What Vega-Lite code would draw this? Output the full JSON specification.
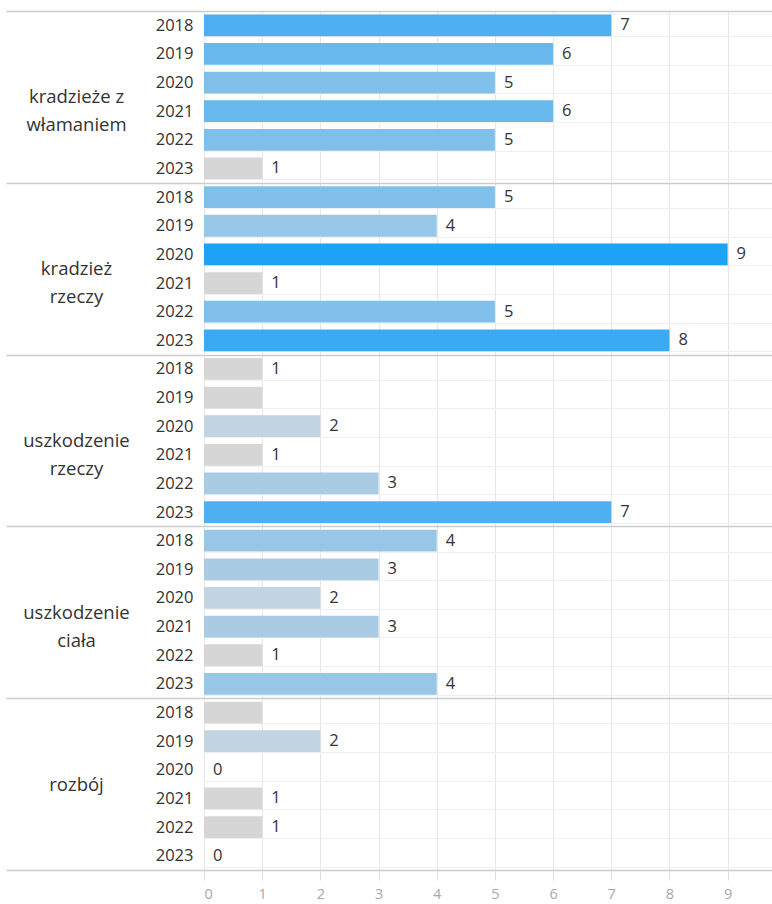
{
  "$schema": "https://vega.github.io/schema/vega-lite/v6.json",
  "width": 569,
  "height": 859,
  "padding": {"left": 5, "top": 2, "right": 0, "bottom": 0},
  "config": {
    "view": {"stroke": null},
    "font": "Open Sans"
  },
  "data": {
    "values": [
      {"key": "kradzieże z włamaniem|2018", "category": "kradzieże z włamaniem", "year": "2018", "value": 7, "label": "7"},
      {"key": "kradzieże z włamaniem|2019", "category": "kradzieże z włamaniem", "year": "2019", "value": 6, "label": "6"},
      {"key": "kradzieże z włamaniem|2020", "category": "kradzieże z włamaniem", "year": "2020", "value": 5, "label": "5"},
      {"key": "kradzieże z włamaniem|2021", "category": "kradzieże z włamaniem", "year": "2021", "value": 6, "label": "6"},
      {"key": "kradzieże z włamaniem|2022", "category": "kradzieże z włamaniem", "year": "2022", "value": 5, "label": "5"},
      {"key": "kradzieże z włamaniem|2023", "category": "kradzieże z włamaniem", "year": "2023", "value": 1, "label": "1"},
      {"key": "kradzież rzeczy|2018", "category": "kradzież rzeczy", "year": "2018", "value": 5, "label": "5"},
      {"key": "kradzież rzeczy|2019", "category": "kradzież rzeczy", "year": "2019", "value": 4, "label": "4"},
      {"key": "kradzież rzeczy|2020", "category": "kradzież rzeczy", "year": "2020", "value": 9, "label": "9"},
      {"key": "kradzież rzeczy|2021", "category": "kradzież rzeczy", "year": "2021", "value": 1, "label": "1"},
      {"key": "kradzież rzeczy|2022", "category": "kradzież rzeczy", "year": "2022", "value": 5, "label": "5"},
      {"key": "kradzież rzeczy|2023", "category": "kradzież rzeczy", "year": "2023", "value": 8, "label": "8"},
      {"key": "uszkodzenie rzeczy|2018", "category": "uszkodzenie rzeczy", "year": "2018", "value": 1, "label": "1"},
      {"key": "uszkodzenie rzeczy|2019", "category": "uszkodzenie rzeczy", "year": "2019", "value": 1, "label": ""},
      {"key": "uszkodzenie rzeczy|2020", "category": "uszkodzenie rzeczy", "year": "2020", "value": 2, "label": "2"},
      {"key": "uszkodzenie rzeczy|2021", "category": "uszkodzenie rzeczy", "year": "2021", "value": 1, "label": "1"},
      {"key": "uszkodzenie rzeczy|2022", "category": "uszkodzenie rzeczy", "year": "2022", "value": 3, "label": "3"},
      {"key": "uszkodzenie rzeczy|2023", "category": "uszkodzenie rzeczy", "year": "2023", "value": 7, "label": "7"},
      {"key": "uszkodzenie ciała|2018", "category": "uszkodzenie ciała", "year": "2018", "value": 4, "label": "4"},
      {"key": "uszkodzenie ciała|2019", "category": "uszkodzenie ciała", "year": "2019", "value": 3, "label": "3"},
      {"key": "uszkodzenie ciała|2020", "category": "uszkodzenie ciała", "year": "2020", "value": 2, "label": "2"},
      {"key": "uszkodzenie ciała|2021", "category": "uszkodzenie ciała", "year": "2021", "value": 3, "label": "3"},
      {"key": "uszkodzenie ciała|2022", "category": "uszkodzenie ciała", "year": "2022", "value": 1, "label": "1"},
      {"key": "uszkodzenie ciała|2023", "category": "uszkodzenie ciała", "year": "2023", "value": 4, "label": "4"},
      {"key": "rozbój|2018", "category": "rozbój", "year": "2018", "value": 1, "label": ""},
      {"key": "rozbój|2019", "category": "rozbój", "year": "2019", "value": 2, "label": "2"},
      {"key": "rozbój|2020", "category": "rozbój", "year": "2020", "value": 0, "label": "0"},
      {"key": "rozbój|2021", "category": "rozbój", "year": "2021", "value": 1, "label": "1"},
      {"key": "rozbój|2022", "category": "rozbój", "year": "2022", "value": 1, "label": "1"},
      {"key": "rozbój|2023", "category": "rozbój", "year": "2023", "value": 0, "label": "0"}
    ]
  },
  "layer": [
    {
      "mark": {"type": "bar"},
      "encoding": {
        "x": {
          "field": "value",
          "type": "quantitative",
          "scale": {"domain": [0, 9.78], "nice": false, "zero": true},
          "axis": {
            "title": null,
            "values": [0, 1, 2, 3, 4, 5, 6, 7, 8, 9],
            "format": "d",
            "grid": true,
            "gridColor": "#e6e6e6",
            "gridWidth": 1,
            "domain": false,
            "ticks": true,
            "tickColor": "#dddddd",
            "tickSize": 10,
            "labelColor": "#a8a8a8",
            "labelFontSize": 14.5,
            "labelPadding": 7
          }
        },
        "y": {
          "field": "key",
          "type": "nominal",
          "sort": null,
          "scale": {"paddingInner": 0.24, "paddingOuter": 0.12},
          "axis": {
            "title": null,
            "orient": "left",
            "labelExpr": "datum.value ? split(datum.value, '|')[1] : ''",
            "grid": true,
            "gridColor": "#f0f0f0",
            "gridWidth": 1,
            "tickBand": "extent",
            "ticks": false,
            "domain": false,
            "labelPadding": 11,
            "labelFontSize": 16.5,
            "labelColor": "#333333"
          }
        },
        "color": {
          "field": "value",
          "type": "ordinal",
          "scale": {
            "domain": [0, 1, 2, 3, 4, 5, 6, 7, 8, 9],
            "range": ["#d6d6d6", "#d6d6d6", "#c3d3df", "#a9cbe4", "#97c6e7", "#80bfea", "#69b8ed", "#4eb0f0", "#3aaaf2", "#1ea2f5"]
          },
          "legend": null
        }
      }
    },
    {
      "mark": {"type": "text", "align": "left", "baseline": "middle", "dx": 9, "fontSize": 16.5, "color": "#333333"},
      "encoding": {
        "x": {"field": "value", "type": "quantitative"},
        "y": {"field": "key", "type": "nominal", "sort": null},
        "text": {"field": "label", "type": "nominal"}
      }
    },
    {
      "mark": {"type": "point", "opacity": 0},
      "encoding": {
        "x": {"field": "value", "type": "quantitative"},
        "y": {
          "field": "category",
          "type": "nominal",
          "sort": null,
          "scale": {"paddingInner": 0, "paddingOuter": 0},
          "axis": {
            "title": null,
            "orient": "left",
            "labelExpr": "!datum.value ? '' : datum.value == 'kradzieże z włamaniem' ? ['kradzieże z', 'włamaniem'] : split(datum.value, ' ')",
            "grid": true,
            "gridColor": "#cccccc",
            "gridWidth": 1.5,
            "tickBand": "extent",
            "ticks": true,
            "tickColor": "#cccccc",
            "tickWidth": 1.5,
            "tickSize": 198,
            "domain": false,
            "labelAlign": "center",
            "labelBaseline": "middle",
            "labelPadding": -70,
            "labelFontSize": 18.5,
            "labelLineHeight": 28,
            "labelColor": "#333333"
          }
        }
      }
    }
  ],
  "resolve": {"scale": {"y": "independent"}, "axis": {"y": "independent"}}
}
